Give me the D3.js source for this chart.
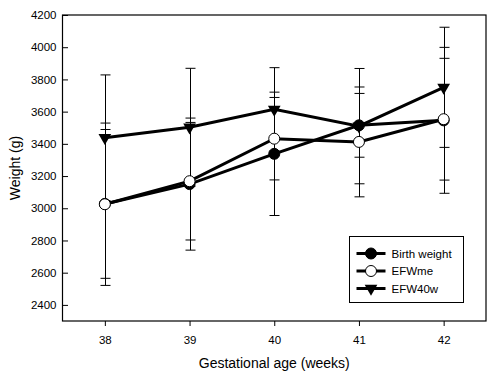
<!DOCTYPE html>
<html>
<head>
<meta charset="utf-8">
<script src="https://cdn.jsdelivr.net/npm/d3@7"></script>
<style>
	body { margin: 0; background: #fff; }
	svg { display: block; font-family: 'Liberation Sans', Arial, sans-serif; }
</style>
</head>
<body>
<div id="chart"></div>
<script>
const weeks = [38, 39, 40, 41, 42];
const yTicks = [2400, 2600, 2800, 3000, 3200, 3400, 3600, 3800, 4000, 4200];

const birthWeight = [3027, 3150, 3338, 3515, 3546];
const birthWeightSD = [462, 410, 383, 198, 453];
const efwMe = [3025, 3168, 3432, 3412, 3553];
const efwMeSD = [504, 365, 256, 341, 378];
const efw40w = [3438, 3503, 3614, 3510, 3751];
const efw40wSD = [390, 366, 259, 358, 373];

const seriesNames = ['Birth weight', 'EFWme', 'EFW40w'];

(() => {
	const width = 500;
	const height = 379;
	const plot = { left: 62.5, right: 486, top: 15, bottom: 321 };

	const series = [
		{ name: seriesNames[0], values: birthWeight, sd: birthWeightSD, marker: 'filled' },
		{ name: seriesNames[1], values: efwMe, sd: efwMeSD, marker: 'open' },
		{ name: seriesNames[2], values: efw40w, sd: efw40wSD, marker: 'triangle' },
	];
	// drawing order seen in the picture: triangles first, open circles last
	const drawOrder = [series[2], series[0], series[1]];

	const svg = d3.select('#chart').append('svg')
		.attr('width', width)
		.attr('height', height);

	const x = d3.scaleLinear()
		.domain([37.5, 42.5])
		.range([plot.left, plot.right]);
	const y = d3.scaleLinear()
		.domain([2300, 4200])
		.range([plot.bottom, plot.top]);

	const xAxis = d3.axisBottom(x)
		.tickValues(weeks)
		.tickSize(5)
		.tickSizeOuter(0)
		.tickPadding(10)
		.tickFormat(d3.format('d'));
	const yAxis = d3.axisLeft(y)
		.tickValues(yTicks)
		.tickSize(-5)
		.tickSizeOuter(0)
		.tickPadding(6)
		.tickFormat(d3.format('d'));

	const xAxisG = svg.append('g')
		.attr('transform', `translate(0, ${plot.bottom})`)
		.call(xAxis);
	const yAxisG = svg.append('g')
		.attr('transform', `translate(${plot.left}, 0)`)
		.call(yAxis);

	[xAxisG, yAxisG].forEach(g => {
		g.select('.domain').remove();
		g.selectAll('line').attr('stroke', '#000');
		g.selectAll('text')
			.attr('fill', '#000')
			.style('font-size', '11.5px');
	});
	yAxisG.selectAll('.tick line').attr('transform', 'translate(0.5, 0)');
	yAxisG.selectAll('.tick text').attr('x', -6);

	// frame
	svg.append('rect')
		.attr('x', plot.left)
		.attr('y', plot.top)
		.attr('width', plot.right - plot.left)
		.attr('height', plot.bottom - plot.top)
		.attr('fill', 'none')
		.attr('stroke', '#000')
		.attr('stroke-width', 1.2);

	// error bars
	const errG = svg.append('g')
		.attr('stroke', '#000')
		.attr('stroke-width', 1);
	const capW = 5;
	series.forEach(s => {
		weeks.forEach((w, i) => {
			const cx = Math.round(x(w)) + 0.5;
			const hi = y(s.values[i] + s.sd[i]);
			const lo = y(s.values[i] - s.sd[i]);
			errG.append('line')
				.attr('x1', cx).attr('x2', cx)
				.attr('y1', hi).attr('y2', lo);
			[hi, lo].forEach(v => {
				errG.append('line')
					.attr('x1', cx - capW).attr('x2', cx + capW)
					.attr('y1', v).attr('y2', v);
			});
		});
	});

	const line = d3.line()
		.x((d, i) => x(weeks[i]))
		.y(d => y(d));

	const triangle = d3.symbol(d3.symbolTriangle, 70);

	function drawMarker(g, type, cx, cy) {
		if (type === 'triangle') {
			g.append('path')
				.attr('d', triangle())
				.attr('transform', `translate(${cx}, ${cy}) rotate(180)`)
				.attr('fill', '#000');
		} else {
			g.append('circle')
				.attr('cx', cx)
				.attr('cy', cy)
				.attr('r', 5.5)
				.attr('fill', type === 'filled' ? '#000' : '#fff')
				.attr('stroke', '#000')
				.attr('stroke-width', 1);
		}
	}

	drawOrder.forEach(s => {
		const g = svg.append('g');
		g.append('path')
			.datum(s.values)
			.attr('d', line)
			.attr('fill', 'none')
			.attr('stroke', '#000')
			.attr('stroke-width', 3);
		s.values.forEach((v, i) => drawMarker(g, s.marker, x(weeks[i]), y(v)));
	});

	// axis titles
	svg.append('text')
		.attr('x', (plot.left + plot.right) / 2)
		.attr('y', 368)
		.style('font-size', '14px')
		.style('text-anchor', 'middle')
		.text('Gestational age (weeks)');
	svg.append('text')
		.attr('transform', 'rotate(-90)')
		.attr('x', -(plot.top + plot.bottom) / 2)
		.attr('y', 20)
		.style('font-size', '14px')
		.style('text-anchor', 'middle')
		.text('Weight (g)');

	// legend
	const legendG = svg.append('g')
		.attr('transform', 'translate(349.5, 236.5)');
	legendG.append('rect')
		.attr('width', 114)
		.attr('height', 66)
		.attr('fill', '#fff')
		.attr('stroke', '#000')
		.attr('stroke-width', 1);
	series.forEach((s, i) => {
		const ry = 17 + i * 17.5;
		const row = legendG.append('g');
		row.append('line')
			.attr('x1', 7).attr('x2', 36)
			.attr('y1', ry).attr('y2', ry)
			.attr('stroke', '#000')
			.attr('stroke-width', 3);
		drawMarker(row, s.marker, 21.5, ry);
		row.append('text')
			.attr('x', 42)
			.attr('y', ry)
			.attr('dy', '0.35em')
			.style('font-size', '11.5px')
			.text(s.name);
	});
})();
</script>
</body>
</html>
